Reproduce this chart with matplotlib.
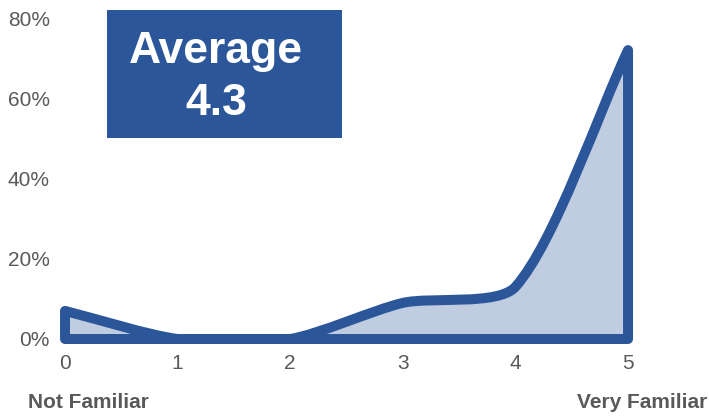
import matplotlib.pyplot as plt
from matplotlib.path import Path
from matplotlib.patches import PathPatch, Rectangle
import numpy as np

plt.rcParams['font.family'] = ['Liberation Sans', 'DejaVu Sans']

# familiarity score 0..5, share of respondents (%)
scores = [0, 1, 2, 3, 4, 5]
shares = [7, 0, 0, 9, 13, 72]
yticks = [0, 20, 40, 60, 80]
low_label = "Not Familiar"
high_label = "Very Familiar"
avg_title = "Average"
avg_value = "4.3"

DARK = "#2B579A"
FILL = "#C0CCE0"
GREY = "#595959"


def spline_controls(x, y, sx, sy, xlim, ylim, tension=0.25):
    # cardinal-style smoothing measured in screen units, controls kept inside the plot
    n = len(x)
    ctrl = []
    for i in range(n):
        p0 = (x[max(i - 1, 0)], y[max(i - 1, 0)])
        p1 = (x[i], y[i])
        p2 = (x[min(i + 1, n - 1)], y[min(i + 1, n - 1)])
        d01 = np.hypot((p1[0] - p0[0]) * sx, (p1[1] - p0[1]) * sy)
        d12 = np.hypot((p2[0] - p1[0]) * sx, (p2[1] - p1[1]) * sy)
        tot = d01 + d12
        fa = tension * d01 / tot if tot else 0
        fb = tension * d12 / tot if tot else 0
        prev = [p1[0] - fa * (p2[0] - p0[0]), p1[1] - fa * (p2[1] - p0[1])]
        nxt = [p1[0] + fb * (p2[0] - p0[0]), p1[1] + fb * (p2[1] - p0[1])]
        for c in (prev, nxt):
            c[0] = min(max(c[0], xlim[0]), xlim[1])
            c[1] = min(max(c[1], ylim[0]), ylim[1])
        ctrl.append((tuple(prev), tuple(nxt)))
    return ctrl


def area_path(x, y, ctrl):
    verts = [(x[0], 0), (x[0], y[0])]
    codes = [Path.MOVETO, Path.LINETO]
    for i in range(len(x) - 1):
        verts += [ctrl[i][1], ctrl[i + 1][0], (x[i + 1], y[i + 1])]
        codes += [Path.CURVE4] * 3
    verts += [(x[-1], 0), (x[0], 0)]
    codes += [Path.LINETO, Path.CLOSEPOLY]
    return Path(verts, codes)


fig = plt.figure(figsize=(7.09, 4.16), dpi=100)
ax = fig.add_axes([0.0917, 0.1851, 0.7941, 0.7716])
ax.set_xlim(0, 5)
ax.set_ylim(0, 80)

bb = ax.get_window_extent()
sx = bb.width / 5
sy = bb.height / 80
ctrl = spline_controls(scores, shares, sx, sy, ax.get_xlim(), ax.get_ylim())

patch = PathPatch(area_path(scores, shares, ctrl), facecolor=FILL, edgecolor=DARK,
                  lw=7.2, joinstyle='round', capstyle='round', clip_on=False)
ax.add_patch(patch)

ax.set_xticks(scores)
ax.set_xticklabels([str(s) for s in scores])
ax.set_yticks(yticks)
ax.set_yticklabels([f"{v}%" for v in yticks])
ax.tick_params(length=0, labelsize=15, labelcolor=GREY)
ax.tick_params(axis='y', pad=11)
ax.tick_params(axis='x', pad=11)
for sp in ax.spines.values():
    sp.set_visible(False)

fig.text(28 / 709, 1 - 402 / 416, low_label, ha='left', va='center',
         fontsize=15, fontweight='bold', color=GREY)
fig.text(707 / 709, 1 - 402 / 416, high_label, ha='right', va='center',
         fontsize=15, fontweight='bold', color=GREY)

fig.patches.append(Rectangle((107 / 709, 1 - 138 / 416), 235 / 709, 128 / 416,
                             transform=fig.transFigure, facecolor=DARK,
                             edgecolor='none'))
fig.text(216 / 709, 1 - 63 / 416, avg_title, ha='center', va='baseline',
         fontsize=32, fontweight='bold', color='white')
fig.text(216 / 709, 1 - 115 / 416, avg_value, ha='center', va='baseline',
         fontsize=32, fontweight='bold', color='white')

fig.savefig("out.png", dpi=100)
